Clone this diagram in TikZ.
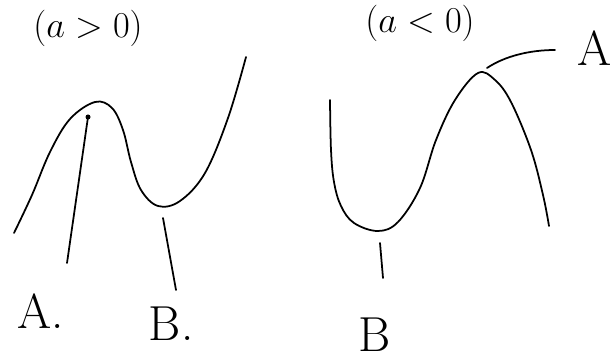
\documentclass[tikz,border=0pt]{standalone}
\usepackage{amsmath, amssymb}

\begin{document}
\begin{tikzpicture}[x=0.02cm, y=-0.02cm, line width=1pt, line cap=round, line join=round,
  lbl/.style={font=\fontsize{28}{30}\selectfont, inner sep=0pt, anchor=base west},
  hdr/.style={font=\fontsize{20}{22}\selectfont, inner sep=0pt}]
\useasboundingbox (0,0) rectangle (611,361);

% headings
\node[hdr] (hpos) at (88,28) {$(a>0)$};
\node[hdr] (hneg) at (420,23) {$(a<0)$};

% left curve (a>0)
\draw plot[smooth, tension=0.6] coordinates {(14,233) (32,195) (50,152) (70,119) (95,102) (112,108) (123,130) (131,162) (141,190) (158,206) (180,201) (205,173) (228,118) (246,57)};

% right curve (a<0)
\draw plot[smooth, tension=0.6] coordinates {(330,100) (331,150) (334,182) (341,206) (354,223) (378,231) (398,222) (420,188) (436,140) (455,100) (478,73) (495,80) (511,102) (531,150) (543,195) (549,226)};

% labels
\node[lbl] (A1) at (17,328) {A.};
\node[lbl] (B1) at (148,340) {B.};
\node[lbl] (A2) at (577,66) {A};
\node[lbl] (B2) at (358,351) {B};

\coordinate (A1top) at (88,117);
\coordinate (A1end) at (67,263);
\coordinate (B1top) at (163,218);
\coordinate (B1end) at (176,290);
\coordinate (B2top) at (380,243);
\coordinate (B2end) at (383,278);
\coordinate (A2tip) at (487,68);
\coordinate (A2end) at (555,50);

\draw (A1top) -- (A1end);
\fill (A1top) circle (2.5);
\draw (B1top) -- (B1end);
\draw (B2top) -- (B2end);
\draw (A2tip) .. controls (505,56) and (530,50) .. (A2end);
\end{tikzpicture}
\end{document}
